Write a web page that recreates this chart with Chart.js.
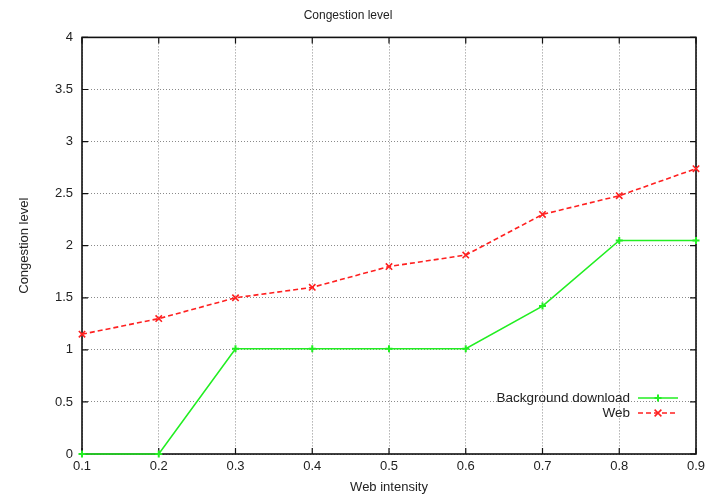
<!DOCTYPE html>
<html>
<head>
<meta charset="utf-8">
<script src="https://cdn.jsdelivr.net/npm/chart.js@4"></script>
<style>
  body { margin: 0; background: #fff; }
  #wrap { width: 712px; height: 495px; }
</style>
</head>
<body>
<div id="wrap"><canvas id="congChart"></canvas></div>
<script>
const intensity = [0.1, 0.2, 0.3, 0.4, 0.5, 0.6, 0.7, 0.8, 0.9];
const background = [0, 0, 1.01, 1.01, 1.01, 1.01, 1.42, 2.05, 2.05];
const web = [1.15, 1.30, 1.50, 1.60, 1.80, 1.91, 2.30, 2.48, 2.74];

const font = "'Liberation Sans', Arial, sans-serif";

// gnuplot style frame, inner ticks and key inside the plot
const framePlugin = {
    id: 'frame',
    beforeDatasetsDraw(chart) {
        const { ctx, chartArea: a, scales } = chart;
        ctx.save();
        ctx.strokeStyle = '#111';
        ctx.lineWidth = 1.2;
        ctx.beginPath();
        scales.x.ticks.forEach(t => {
            const px = scales.x.getPixelForValue(t.value);
            ctx.moveTo(px, a.bottom); ctx.lineTo(px, a.bottom - 6);
            ctx.moveTo(px, a.top); ctx.lineTo(px, a.top + 6);
        });
        scales.y.ticks.forEach(t => {
            const py = scales.y.getPixelForValue(t.value);
            ctx.moveTo(a.left, py); ctx.lineTo(a.left + 6, py);
            ctx.moveTo(a.right, py); ctx.lineTo(a.right - 6, py);
        });
        ctx.stroke();
        ctx.lineWidth = 1.6;
        ctx.strokeRect(a.left, a.top, a.right - a.left, a.bottom - a.top);
        ctx.restore();
    },
    afterDatasetsDraw(chart) {
        const { ctx, chartArea: a } = chart;
        ctx.save();
        ctx.font = '13.5px ' + font;
        ctx.textAlign = 'right';
        ctx.textBaseline = 'middle';
        chart.data.datasets.forEach((ds, i) => {
            const y = a.bottom - 56 + i * 15;
            const x0 = a.right - 58, x1 = a.right - 18;
            ctx.fillStyle = '#222';
            ctx.fillText(ds.label, x0 - 8, y);
            ctx.strokeStyle = ds.borderColor;
            ctx.lineWidth = ds.borderWidth;
            ctx.setLineDash(ds.borderDash || []);
            ctx.beginPath(); ctx.moveTo(x0, y); ctx.lineTo(x1, y); ctx.stroke();
            ctx.setLineDash([]);
            const m = (x0 + x1) / 2, r = ds.pointRadius;
            ctx.lineWidth = ds.pointBorderWidth;
            ctx.beginPath();
            if (ds.pointStyle === 'crossRot') {
                r2 = r * 0.75;
                ctx.moveTo(m - r2, y - r2); ctx.lineTo(m + r2, y + r2);
                ctx.moveTo(m - r2, y + r2); ctx.lineTo(m + r2, y - r2);
            } else {
                ctx.moveTo(m - r, y); ctx.lineTo(m + r, y);
                ctx.moveTo(m, y - r); ctx.lineTo(m, y + r);
            }
            ctx.stroke();
        });
        ctx.restore();
    }
};

const ctx = document.getElementById('congChart').getContext('2d');
const congChart = new Chart(ctx, {
    type: 'line',
    data: {
        datasets: [{
            label: 'Background download',
            data: intensity.map((x, i) => ({ x: x, y: background[i] })),
            borderColor: '#22ee22',
            backgroundColor: '#22ee22',
            borderWidth: 1.6,
            pointStyle: 'cross',
            pointRadius: 3.5,
            pointBorderWidth: 2,
            tension: 0,
            clip: 6
        }, {
            label: 'Web',
            data: intensity.map((x, i) => ({ x: x, y: web[i] })),
            borderColor: '#ff2020',
            backgroundColor: '#ff2020',
            borderWidth: 1.6,
            borderDash: [5, 3],
            pointStyle: 'crossRot',
            pointRadius: 4.5,
            pointBorderWidth: 1.6,
            tension: 0,
            clip: 6
        }]
    },
    options: {
        responsive: true,
        maintainAspectRatio: false,
        animation: false,
        layout: { padding: { top: 0, right: 16, left: 0, bottom: 0 } },
        plugins: {
            legend: { display: false },
            tooltip: { enabled: false },
            title: {
                display: true,
                text: 'Congestion level',
                color: '#222',
                font: { family: font, size: 12, weight: 'normal' },
                padding: { top: 8, bottom: 15 }
            }
        },
        scales: {
            x: {
                type: 'linear',
                min: 0.1,
                max: 0.9,
                ticks: {
                    stepSize: 0.1,
                    color: '#222',
                    font: { family: font, size: 13 },
                    padding: 5,
                    callback: v => v.toFixed(1)
                },
                grid: { color: '#8a8a8a', lineWidth: 1, drawTicks: false },
                border: { display: false, dash: [1, 2] },
                title: {
                    display: true,
                    text: 'Web intensity',
                    color: '#222',
                    font: { family: font, size: 13 },
                    padding: { top: 4, bottom: 0 }
                },
                afterFit: s => { s.height = 41; }
            },
            y: {
                min: 0,
                max: 4,
                ticks: {
                    stepSize: 0.5,
                    color: '#222',
                    font: { family: font, size: 13 },
                    padding: 9,
                    callback: v => String(Math.round(v * 10) / 10)
                },
                grid: { color: '#8a8a8a', lineWidth: 1, drawTicks: false },
                border: { display: false, dash: [1, 2] },
                title: {
                    display: true,
                    text: 'Congestion level',
                    color: '#222',
                    font: { family: font, size: 13 },
                    padding: { top: 17, bottom: 0 }
                },
                afterFit: s => { s.width = 82; }
            }
        }
    },
    plugins: [framePlugin]
});
</script>
</body>
</html>
